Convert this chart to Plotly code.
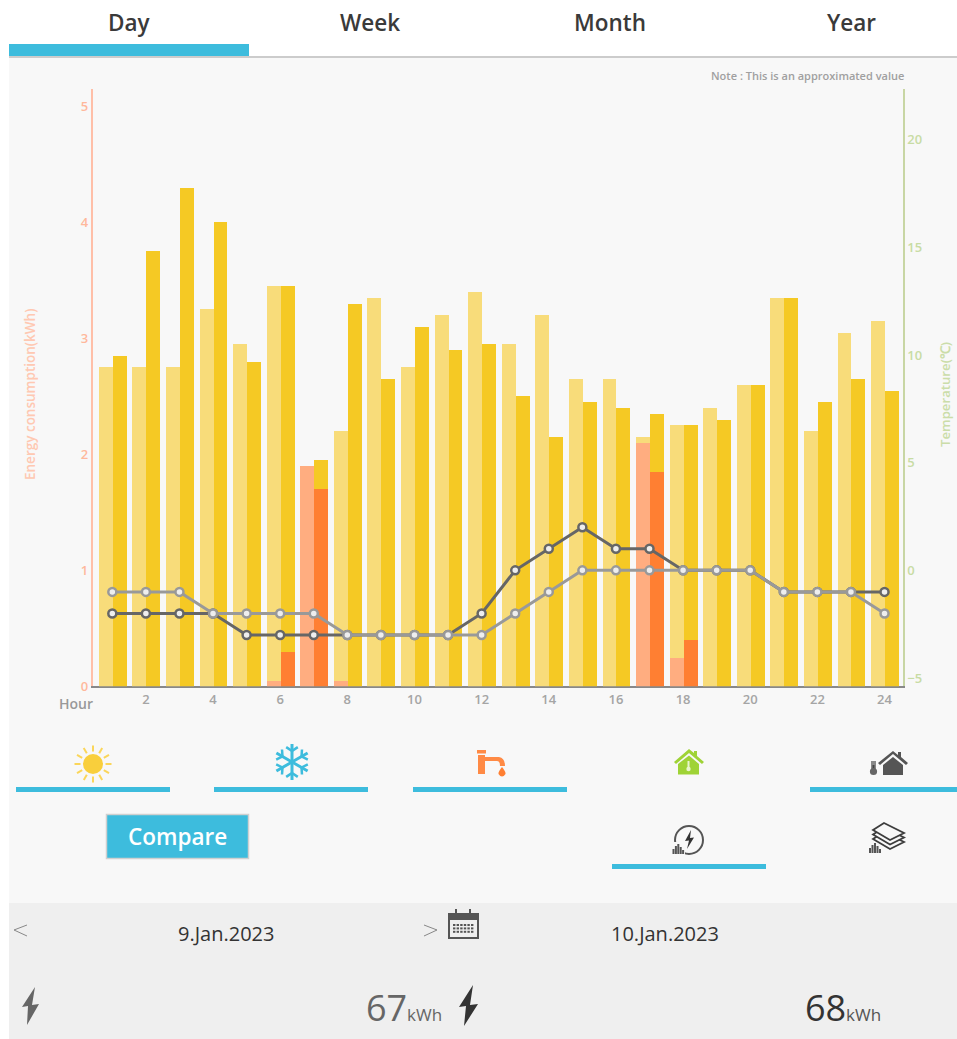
import re
import math
import plotly.graph_objects as go

W, H = 957, 1039

hours = list(range(1, 25))
xtick_labels = [2, 4, 6, 8, 10, 12, 14, 16, 18, 20, 22, 24]
ytick_energy = [0, 1, 2, 3, 4, 5]
ytick_temp = [-5, 0, 5, 10, 15, 20]

heat_day1 = [2.75, 2.75, 2.75, 3.25, 2.95, 3.40, 0.00, 2.15, 3.35, 2.75, 3.20, 3.40,
             2.95, 3.20, 2.65, 2.65, 0.05, 2.00, 2.40, 2.60, 3.35, 2.20, 3.05, 3.15]
heat_day2 = [2.85, 3.75, 4.30, 4.00, 2.80, 3.15, 0.25, 3.30, 2.65, 3.10, 2.90, 2.95,
             2.50, 2.15, 2.45, 2.40, 0.50, 1.85, 2.30, 2.60, 3.35, 2.45, 2.65, 2.55]
water_day1 = [0, 0, 0, 0, 0, 0.05, 1.90, 0.05, 0, 0, 0, 0,
              0, 0, 0, 0, 2.10, 0.25, 0, 0, 0, 0, 0, 0]
water_day2 = [0, 0, 0, 0, 0, 0.30, 1.70, 0, 0, 0, 0, 0,
              0, 0, 0, 0, 1.85, 0.40, 0, 0, 0, 0, 0, 0]
temp_day1 = [-1, -1, -1, -2, -2, -2, -2, -3, -3, -3, -3, -3,
             -2, -1, 0, 0, 0, 0, 0, 0, -1, -1, -1, -2]
temp_day2 = [-2, -2, -2, -2, -3, -3, -3, -3, -3, -3, -3, -2,
             0, 1, 2, 1, 1, 0, 0, 0, -1, -1, -1, -1]

tabs = ["Day", "Week", "Month", "Year"]
date_1, date_2 = "9.Jan.2023", "10.Jan.2023"
total_1, total_2 = "67", "68"

BLUE = "#3dbcdd"
FONT = "Open Sans"
PANEL = "#f8f8f8"


def fx(x):
    return x / W


def fy(y):
    return 1 - y / H


def path(s):
    return re.sub(r"(-?[\d.]+),(-?[\d.]+)",
                  lambda m: f"{fx(float(m[1])):.5f},{fy(float(m[2])):.5f}", s)


shapes = []


def rect(x0, y0, x1, y1, fill, line=None, lw=0, layer="below"):
    shapes.append(dict(type="rect", xref="paper", yref="paper", x0=fx(x0), x1=fx(x1),
                       y0=fy(y0), y1=fy(y1), fillcolor=fill, layer=layer,
                       line=dict(color=line or fill, width=lw)))


def circ(cx, cy, r, fill="rgba(0,0,0,0)", line=None, lw=0):
    shapes.append(dict(type="circle", xref="paper", yref="paper", x0=fx(cx - r), x1=fx(cx + r),
                       y0=fy(cy - r), y1=fy(cy + r), fillcolor=fill, layer="above",
                       line=dict(color=line or fill, width=lw)))


def shp(s, fill=None, line=None, lw=0):
    shapes.append(dict(type="path", xref="paper", yref="paper", path=path(s),
                       fillcolor=fill or "rgba(0,0,0,0)", layer="above",
                       line=dict(color=line or "rgba(0,0,0,0)", width=lw)))


# page panels
rect(9, 57, 957, 903, PANEL)
rect(9, 903, 957, 1039, "#efefef")
rect(9, 56, 957, 58, "#cccccc")
rect(9, 44, 249, 56, BLUE)
for x0, x1, y in [(16, 170, 789.5), (214, 368, 789.5), (413, 567, 789.5),
                  (810, 957, 789.5), (612, 766, 866.5)]:
    rect(x0, y - 2.5, x1, y + 2.5, BLUE)
rect(106.5, 814.5, 248.5, 858.5, BLUE, "#d0d0d0", 1.5)

# sun
for i in range(12):
    a = i * math.pi / 6
    shp(f"M {93 + 12.5 * math.cos(a):.1f},{764 + 12.5 * math.sin(a):.1f} "
        f"L {93 + 18.5 * math.cos(a):.1f},{764 + 18.5 * math.sin(a):.1f}", line="#fbd65a", lw=2)
circ(93, 764, 10, "#f9cf3c")

# snowflake
for i in range(6):
    a = i * math.pi / 3 + math.pi / 2
    c, s = math.cos(a), math.sin(a)
    ex, ey = 292 + 18 * c, 762 + 18 * s
    shp(f"M 292,762 L {ex:.1f},{ey:.1f}", line=BLUE, lw=3)
    for d in (-1, 1):
        b = a + d * math.pi / 3.2
        mx, my = 292 + 11 * c, 762 + 11 * s
        shp(f"M {mx:.1f},{my:.1f} L {mx + 7 * math.cos(b):.1f},{my + 7 * math.sin(b):.1f}",
            line=BLUE, lw=2.5)

# tap
ORANGE = "#ff8a45"
rect(477, 750, 486, 753.5, ORANGE, layer="above")
rect(478, 755, 485, 774, ORANGE, layer="above")
shp("M 485,757 L 499,757 Q 505,758 505,766 L 500,766 Q 500,761 497,761 L 485,761 Z", ORANGE)
shp("M 502,767 Q 498,772 498.5,774 Q 502,779 505.5,774 Q 506,772 502,767 Z", "#ff7f32")

# green house
G = "#9fd336"
shp("M 689,749 L 694,753 L 694,751 L 697,751 L 697,756 L 704,762 L 702,764 L 689,753 "
    "L 676,764 L 674,762 Z", G)
shp("M 689,755.5 L 699,764 L 699,774.5 L 678,774.5 L 678,764 Z", G)
shp("M 688.5,761 L 688.5,768", line="#e9f5cd", lw=2)
circ(688.5, 769, 2.2, "#e9f5cd")

# dark house + thermometer
D = "#555555"
shp("M 893,751 L 898,755 L 898,752 L 901,752 L 901,757 L 908,763 L 906,765 L 893,754 "
    "L 880,765 L 878,763 Z", D)
shp("M 893,757 L 903,765 L 903,775 L 883,775 L 883,765 Z", D)
shp("M 873.5,761 L 873.5,771", line="#888888", lw=5)
shp("M 873.5,765 L 873.5,771", line="#444444", lw=2)
circ(873.5, 771.5, 3.6, "#666666")

# electricity circle
circ(689, 840, 14, line=D, lw=2)
rect(669, 842, 685, 856, PANEL, layer="above")
shp("M 691,830 L 685,841 L 689,840.5 L 687,849 L 694,837.5 L 690,838 Z", "#333333")
for i, hh in enumerate([5, 8, 10, 7, 4]):
    rect(672.5 + i * 2.4, 854 - hh, 674.5 + i * 2.4, 854, D, layer="above")

# stack of sheets
for dy in (9, 4.5, 0):
    shp(f"M 884,{823 + dy} L 904,{833 + dy} L 890,{840 + dy} L 873,{830 + dy} Z",
        PANEL, "#3d3d3d", 1.8)
for i, hh in enumerate([5, 8, 10, 7, 4]):
    rect(869 + i * 2.5, 853 - hh, 871 + i * 2.5, 853, D, layer="above")

# calendar
shapes.append(dict(type="rect", xref="paper", yref="paper", x0=fx(449), x1=fx(478), y0=fy(914),
                   y1=fy(938), fillcolor="#efefef", layer="above", line=dict(color=D, width=2)))
rect(449, 914, 478, 920, D, layer="above")
for x in (456, 470):
    rect(x - 1, 909, x + 1, 917, D, layer="above")
for r in range(3):
    for c in range(6):
        rect(453 + c * 3.6, 924 + r * 3.4, 455.4 + c * 3.6, 926 + r * 3.4, D, layer="above")

# bolts
shp("M 35,987 L 22,1007 L 28,1006 L 27,1025 L 39,1004 L 32,1005 Z", "#666666")
shp("M 473,985 L 459,1007 L 466,1006 L 464,1026 L 478,1004 L 470,1005 Z", "#333333")

# chevrons
shp("M 27,925 L 14,930 L 27,936", line="#888888", lw=1)
shp("M 424,925 L 437,930 L 424,936", line="#888888", lw=1)


def text(x, y, s, size, color, anchor="center", weight=400, angle=0):
    return dict(xref="paper", yref="paper", x=fx(x), y=fy(y), text=s, showarrow=False,
                xanchor=anchor, yanchor="middle", textangle=angle,
                font=dict(family=FONT, size=size, color=color, weight=weight))


annotations = [text(x, 22, t, 22.5, "#3a3a3a", weight=600)
               for x, t in zip([129.5, 370, 610, 851], tabs)]
annotations += [
    text(905.5, 75.5, "Note : This is an approximated value", 11, "#a0a0a0", "right", 600),
    text(76, 703.5, "Hour", 14, "#999999", "center", 600),
    text(177.5, 836, "Compare", 22.5, "#ffffff", weight=600),
    text(225.5, 933, date_1, 20, "#333333", weight=500),
    text(665, 933, date_2, 20, "#333333", weight=500),
    text(364, 1007, total_1, 36, "#666666", "left", 500),
    text(405, 1014, "kWh", 17, "#666666", "left"),
    text(803, 1007, total_2, 36, "#333333", "left", 500),
    text(844, 1014, "kWh", 17, "#555555", "left"),
    text(30, 395, "Energy consumption(kWh)", 13.5, "#ffc8b2", "center", 600, -90),
    text(945, 395, "Temperature(℃)", 13.2, "#cbdda9", "center", 600, -90),
]

WIDTH = 0.415
fig = go.Figure()
for name, vals, base, color, off in [
    ("Water 9.Jan", water_day1, None, "#ffad80", -WIDTH),
    ("Heating 9.Jan", heat_day1, water_day1, "#f8dc7a", -WIDTH),
    ("Water 10.Jan", water_day2, None, "#ff7f32", 0),
    ("Heating 10.Jan", heat_day2, water_day2, "#f5c924", 0),
]:
    fig.add_trace(go.Bar(x=hours, y=vals, base=base, width=WIDTH, offset=off, name=name,
                         marker=dict(color=color, line=dict(width=0)), showlegend=False))

for name, vals, color in [("Temperature 10.Jan", temp_day2, "#666666"),
                          ("Temperature 9.Jan", temp_day1, "#999999")]:
    fig.add_trace(go.Scatter(x=hours, y=vals, yaxis="y2", mode="lines+markers", name=name,
                             showlegend=False, line=dict(color=color, width=3),
                             marker=dict(size=8, color="#eeeeee", line=dict(color=color, width=2.5))))

fig.update_layout(
    width=W, height=H, margin=dict(l=0, r=0, t=0, b=0, autoexpand=False), autosize=False,
    paper_bgcolor="#ffffff", plot_bgcolor="rgba(0,0,0,0)", barmode="overlay", bargap=0,
    shapes=shapes, annotations=annotations, font=dict(family=FONT), showlegend=False,
    xaxis=dict(domain=[fx(92.5), fx(903)], range=[0.41, 24.55], tickmode="array", automargin=False,
               tickvals=xtick_labels, ticktext=[str(v) for v in xtick_labels], showgrid=False,
               zeroline=False, showline=True, linecolor="#888888", linewidth=1.5, ticks="",
               layer="below traces", anchor="y",
               tickfont=dict(family=FONT, size=13, color="#a5a5a5", weight=600)),
    yaxis=dict(domain=[fy(686.2), fy(88.7)], range=[0, 5.15], tickmode="array", automargin=False,
               tickvals=ytick_energy, showgrid=False, zeroline=False, showline=True,
               linecolor="#ffbfa8", linewidth=1.5, ticks="", anchor="x",
               tickfont=dict(family=FONT, size=13, color="#ffb89c", weight=600)),
    yaxis2=dict(domain=[fy(686.2), fy(88.7)], range=[-5.38, 22.37], overlaying="y", side="right",
                anchor="x", tickmode="array", tickvals=ytick_temp, showgrid=False, zeroline=False,
                automargin=False, showline=True, linecolor="#c8d6a4", linewidth=1.5, ticks="",
                tickfont=dict(family=FONT, size=13, color="#c8dca4", weight=600)),
)

fig.write_html("out.html", include_plotlyjs=True,
               config=dict(displayModeBar=False, responsive=False),
               post_script="document.body.style.margin='0';document.body.style.overflow='hidden';")
